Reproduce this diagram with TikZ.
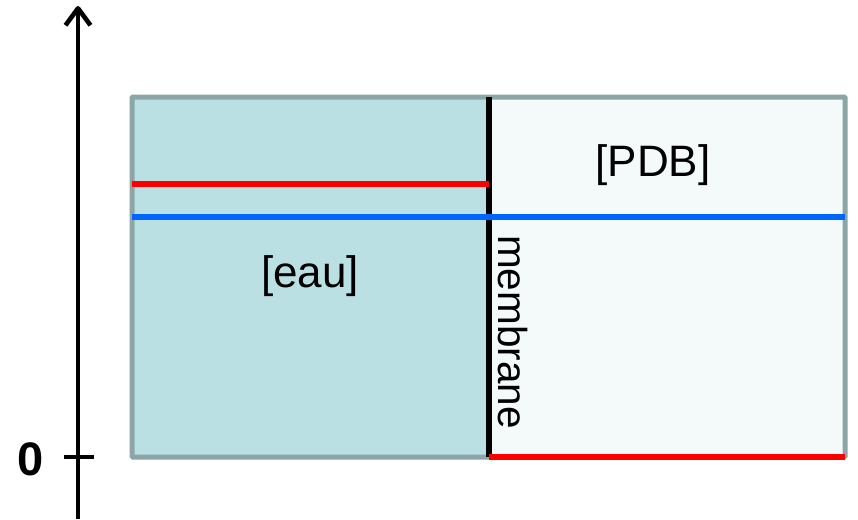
\documentclass[tikz,border=0pt]{standalone}
\usepackage{fontspec}
\setmainfont{Liberation Sans}
\usetikzlibrary{arrows.meta}
\definecolor{eaufill}{HTML}{BBE0E3}
\definecolor{pdbfill}{HTML}{F4FAFA}
\definecolor{boxgray}{HTML}{8CA5A6}
\definecolor{levelred}{HTML}{FF0000}
\definecolor{levelblue}{HTML}{0066FF}
\begin{document}
\begin{tikzpicture}[x=1pt,y=-1pt,
  level/.style={line width=5.2pt},
  tag/.style={font=\fontsize{44}{50}\selectfont}]
\useasboundingbox (0,0) rectangle (858,519);
% compartments
\coordinate (nw) at (132,97);
\coordinate (se) at (845,457);
\coordinate (mtop) at (489,97);
\coordinate (mbot) at (489,457);
\fill[pdbfill] (nw) rectangle (se);
\fill[eaufill] (nw) rectangle (mbot);
\draw[boxgray, line width=5pt, rounded corners=1pt] (nw) rectangle (se);
\draw[line width=5.5pt] (mtop) -- (mbot);
% levels
\coordinate (redl) at (132,184);
\coordinate (bluel) at (132,217);
\draw[levelred, level] (redl) -- (redl -| mtop);
\draw[levelblue, level] (bluel) -- (bluel -| se);
\draw[levelred, level] (mbot) -- (se);
% axis
\coordinate (axbot) at (78,519);
\coordinate (axtop) at (78,6);
\coordinate (zero) at (78,457);
\draw[line width=4.6pt, line join=round,
      -{Straight Barb[length=17pt,width=25pt,line join=round]}]
       (axbot) -- (axtop);
\draw[line width=4.6pt] (zero) ++(-14,0) -- ++(30,0);
\node[font=\fontsize{47}{50}\selectfont\bfseries] (zerotag) at (31,459) {0};
% labels
\node[tag] (pdb) at (653,165) {[PDB]};
\node[tag] (eau) at (310,276) {[eau]};
\node[tag, font=\fontsize{40.5}{48}\selectfont, rotate=-90] (membrane) at (513,332) {membrane};
\end{tikzpicture}
\end{document}
